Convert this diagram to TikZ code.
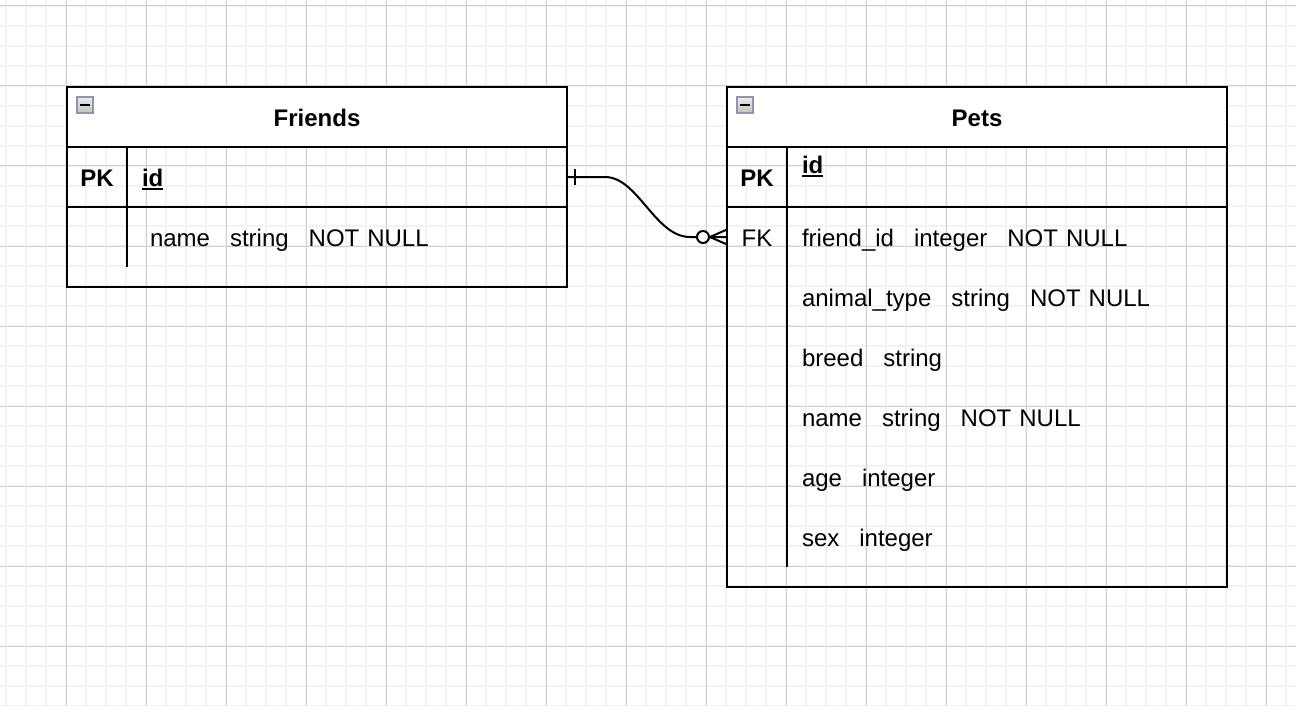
\documentclass[tikz,border=0pt]{standalone}
\usepackage{fontspec}
\setmainfont{Liberation Sans}
\usetikzlibrary{positioning}
\definecolor{ink}{HTML}{000000}
\definecolor{gridminor}{HTML}{F2F2F2}
\definecolor{gridmajor}{HTML}{D0D0D0}
\definecolor{btnframe}{HTML}{8E96A8}
\definecolor{btnlight}{HTML}{EBEBEB}
\definecolor{btndark}{HTML}{C2C2C2}
\newcommand{\colgap}{\hspace{20pt}}
\newcommand{\keyname}[1]{\setbox0=\hbox{#1}\rlap{\rule[-3.5pt]{\wd0}{2pt}}\box0}
\tikzset{
  every node/.style={font=\fontsize{24}{28.8}\selectfont, text=ink, outer sep=0pt},
  keyfont/.style={font=\fontsize{24}{28.8}\selectfont\bfseries},
  tablebody/.style={draw=ink, line width=2pt, minimum width=500pt, inner sep=0pt},
  tablehead/.style={draw=ink, line width=2pt, fill=white, minimum width=500pt, minimum height=60pt, inner sep=0pt, keyfont, text height=18.4pt, text depth=0pt},
  keycell/.style={minimum width=60pt, minimum height=60pt, inner sep=0pt, text height=18.4pt, text depth=0pt},
  fieldcell/.style={minimum height=60pt, inner xsep=15pt, inner ysep=0pt, text width=410pt, align=left, text height=18.4pt, text depth=0pt},
  collapsebtn/.style={draw=btnframe, line width=2pt, top color=btnlight, bottom color=btndark, minimum size=16pt, inner sep=0pt, anchor=north west},
  tableline/.style={draw=ink, line width=2pt},
  relation/.style={draw=ink, line width=2pt},
  minorgrid/.style={draw=gridminor, line width=1.6pt},
  majorgrid/.style={draw=gridmajor, line width=1pt},
}
\begin{document}
\begin{tikzpicture}[x=1pt, y=-1pt]
\useasboundingbox (0,0) rectangle (1296,706);
\fill[white] (0,0) rectangle (1296,706);
% grid
\foreach \x in {6,26,...,1286} \draw[minorgrid] (\x,0) -- (\x,706);
\foreach \y in {6,26,...,706} \draw[minorgrid] (0,\y) -- (1296,\y);
\foreach \x in {66,146,...,1266} \draw[majorgrid] (\x,0) -- (\x,706);
\foreach \y in {6,86,...,686} \draw[majorgrid] (0,\y) -- (1296,\y);
% Friends
\node[tablebody, minimum height=200pt, anchor=north west] (friends) at (67,87) {};
\node[tablehead, anchor=north west] (friendshead) at (friends.north west) {Friends};
\node[collapsebtn] (friendsbtn) at ([xshift=10pt,yshift=-10pt]friendshead.north west) {\rule{10pt}{2pt}};
\node[keycell, keyfont, below right=0pt of friendshead.south west] (friendspk) {PK};
\node[fieldcell, right=0pt of friendspk] (friendsid) {\keyname{\textbf{id}}};
\node[fieldcell, below=0pt of friendsid] (friendsname) {\ name\colgap string\colgap NOT NULL};
\draw[tableline] (friendspk.south west) -- (friendsid.south east);
\draw[tableline] (friendspk.north east) -- (friendsname.south west);
% Pets
\node[tablebody, minimum height=500pt, anchor=north west] (pets) at (727,87) {};
\node[tablehead, anchor=north west] (petshead) at (pets.north west) {Pets};
\node[collapsebtn] (petsbtn) at ([xshift=10pt,yshift=-10pt]petshead.north west) {\rule{10pt}{2pt}};
\node[keycell, keyfont, below right=0pt of petshead.south west] (petspk) {PK};
\node[fieldcell, minimum height=34pt, anchor=north west] (petsid) at (petspk.north east) {\keyname{\textbf{id}}};
\node[keycell, below=0pt of petspk] (petsfk) {FK};
\node[fieldcell, right=0pt of petsfk] (petsfriend) {friend\_id\colgap integer\colgap NOT NULL};
\node[fieldcell, below=0pt of petsfriend] (petstype) {animal\_type\colgap string\colgap NOT NULL};
\node[fieldcell, below=0pt of petstype] (petsbreed) {breed\colgap string};
\node[fieldcell, below=0pt of petsbreed] (petsname) {name\colgap string\colgap NOT NULL};
\node[fieldcell, below=0pt of petsname] (petsage) {age\colgap integer};
\node[fieldcell, below=0pt of petsage] (petssex) {sex\colgap integer};
\draw[tableline] (petspk.south west) -- (petspk.south west -| pets.east);
\draw[tableline] (petspk.north east) -- (petssex.south west);
% relation
\draw[relation] (friendsid.east) -- ++(38,0) .. controls +(33,0) and +(-35,0) .. ++(85,60) -- (petsfk.west);
\draw[relation] ([xshift=8pt,yshift=8pt]friendsid.east) -- ([xshift=8pt,yshift=-8pt]friendsid.east);
\draw[relation] ([xshift=-17pt]petsfk.west) -- ([yshift=7.5pt]petsfk.west)
  ([xshift=-17pt]petsfk.west) -- ([yshift=-7.5pt]petsfk.west);
\draw[relation, fill=white] ([xshift=-24pt]petsfk.west) circle[radius=6pt];
\end{tikzpicture}
\end{document}
